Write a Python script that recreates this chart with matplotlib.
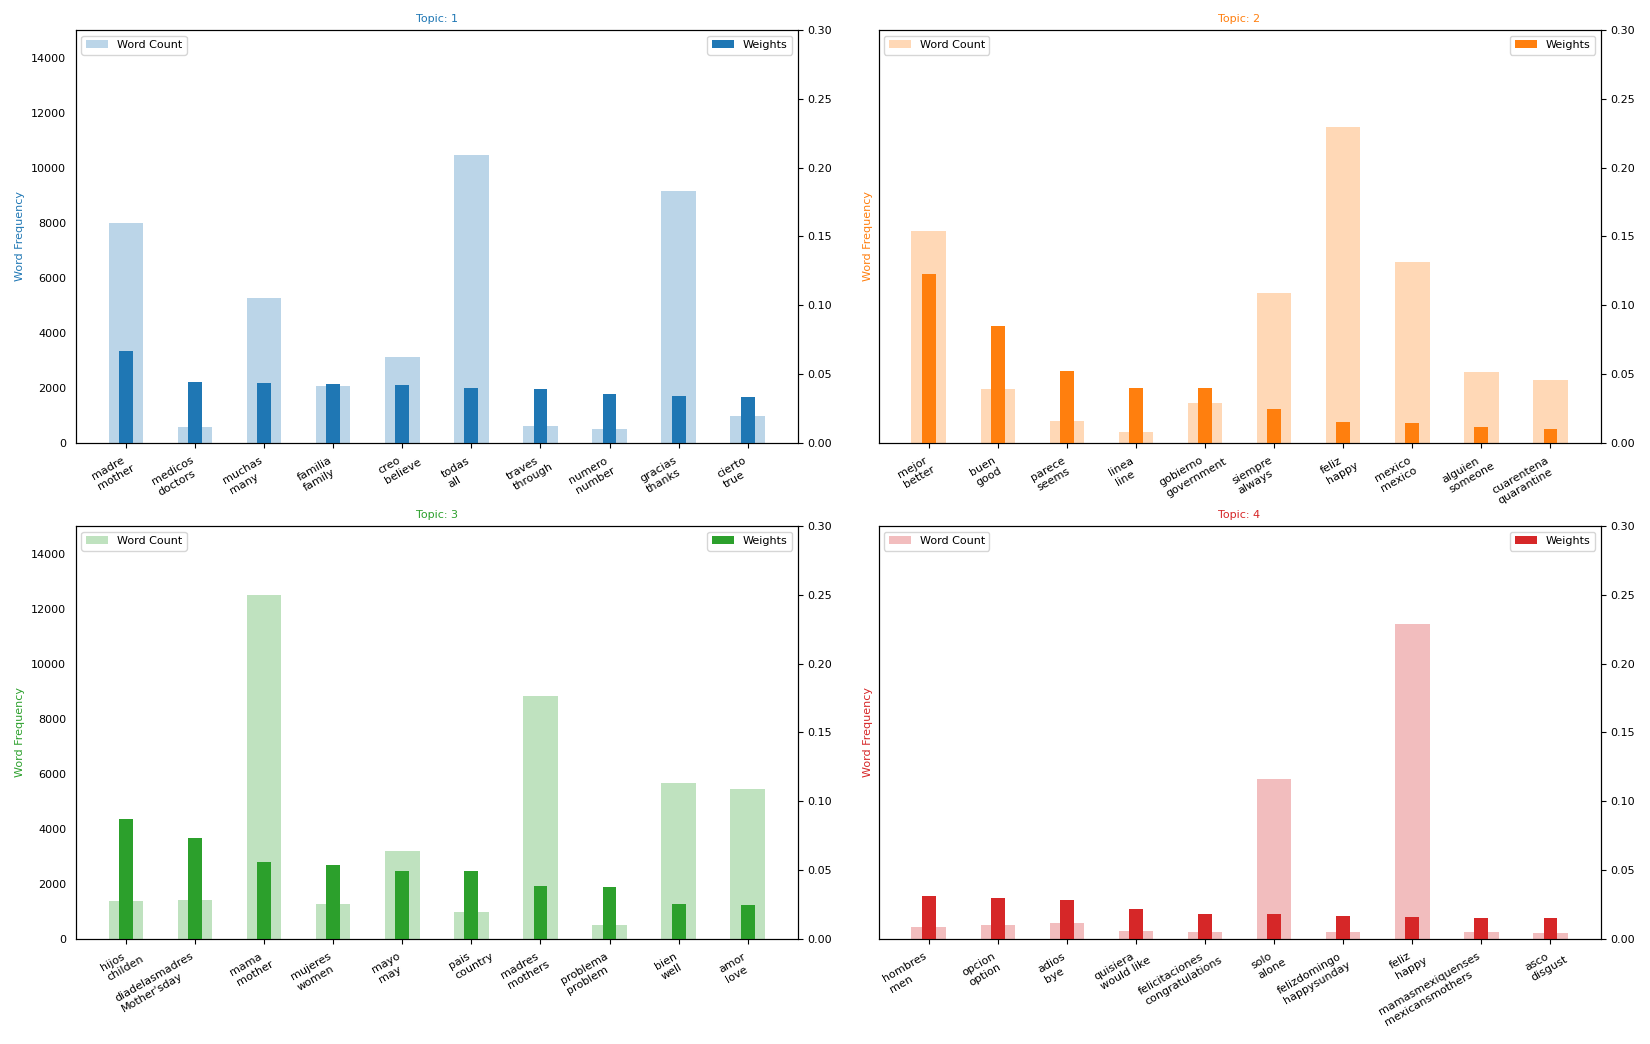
import numpy as np
import matplotlib
matplotlib.use("Agg")
import matplotlib.pyplot as plt

# Words per topic: spanish word and its english translation
words_1 = ["madre", "medicos", "muchas", "familia", "creo", "todas", "traves", "numero", "gracias", "cierto"]
trans_1 = ["mother", "doctors", "many", "family", "believe", "all", "through", "number", "thanks", "true"]
words_2 = ["mejor", "buen", "parece", "linea", "gobierno", "siempre", "feliz", "mexico", "alguien", "cuarentena"]
trans_2 = ["better", "good", "seems", "line", "government", "always", "happy", "mexico", "someone", "quarantine"]
words_3 = ["hijos", "diadelasmadres", "mama", "mujeres", "mayo", "pais", "madres", "problema", "bien", "amor"]
trans_3 = ["childen", "Mother'sday", "mother", "women", "may", "country", "mothers", "problem", "well", "love"]
words_4 = ["hombres", "opcion", "adios", "quisiera", "felicitaciones", "solo", "felizdomingo", "feliz",
           "mamasmexiquenses", "asco"]
trans_4 = ["men", "option", "bye", "would like", "congratulations", "alone", "happysunday", "happy",
           "mexicansmothers", "disgust"]

counts_1 = [8000, 580, 5280, 2060, 3130, 10480, 605, 510, 9140, 980]
counts_2 = [7690, 1950, 800, 400, 1445, 5430, 11480, 6580, 2560, 2290]
counts_3 = [1370, 1417, 12510, 1260, 3175, 970, 8840, 510, 5660, 5430]
counts_4 = [436, 484, 581, 290, 254, 5815, 254, 11440, 254, 206]

weights_1 = [0.0666, 0.0444, 0.0436, 0.0429, 0.0421, 0.0398, 0.0390, 0.0352, 0.0337, 0.0329]
weights_2 = [0.1224, 0.0849, 0.0520, 0.0398, 0.0398, 0.0245, 0.0150, 0.0143, 0.0116, 0.0099]
weights_3 = [0.0872, 0.0735, 0.0559, 0.0536, 0.0494, 0.0492, 0.0385, 0.0378, 0.0254, 0.0247]
weights_4 = [0.0312, 0.0298, 0.0283, 0.0213, 0.0182, 0.0177, 0.0167, 0.0158, 0.0153, 0.0148]

topics = [1, 2, 3, 4]
cols = ["#1f77b4", "#ff7f0e", "#2ca02c", "#d62728"]
all_words = [words_1, words_2, words_3, words_4]
all_trans = [trans_1, trans_2, trans_3, trans_4]
all_counts = [counts_1, counts_2, counts_3, counts_4]
all_weights = [weights_1, weights_2, weights_3, weights_4]

fs = 8
plt.rcParams["font.size"] = fs

fig, axes = plt.subplots(2, 2, figsize=(16.5, 10.44), dpi=100, sharey=True)
fig.subplots_adjust(left=0.046, right=0.970, top=0.971, bottom=0.101, wspace=0.112, hspace=0.2025)

# second line of each tick label hangs below the first one, left aligned
h1 = 1.0 * fs
gap = 0.16 * fs

for i, ax in enumerate(axes.flatten()):
    x = np.arange(len(all_words[i]))
    ax.bar(x, all_counts[i], color=cols[i], width=0.5, alpha=0.3, label="Word Count")
    ax_twin = ax.twinx()
    ax_twin.bar(x, all_weights[i], color=cols[i], width=0.2, label="Weights")
    ax.set_ylabel("Word Frequency", color=cols[i])
    ax.set_ylim(0, 15000)
    ax_twin.set_ylim(0, 0.30)
    ax.set_yticks(np.arange(0, 15000, 2000))
    ax_twin.set_yticks(np.arange(0, 0.31, 0.05))
    ax.set_title("Topic: " + str(topics[i]), color=cols[i], fontsize=fs)
    ax.tick_params(axis="y", left=False)
    ax.tick_params(axis="x", pad=5.5)
    ax.set_xticks(x)
    ax.set_xticklabels(all_words[i], rotation=30, ha="right")
    for lab, tr in zip(ax.get_xticklabels(), all_trans[i]):
        ax.annotate(tr, xy=(0, 0), xycoords=lab,
                    xytext=(0.5 * (h1 + gap), -0.866 * gap), textcoords="offset points",
                    rotation=30, rotation_mode="anchor", ha="left", va="top", fontsize=fs)
    ax.legend(loc="upper left")
    ax_twin.legend(loc="upper right")

fig.savefig("out.png", dpi=100)
